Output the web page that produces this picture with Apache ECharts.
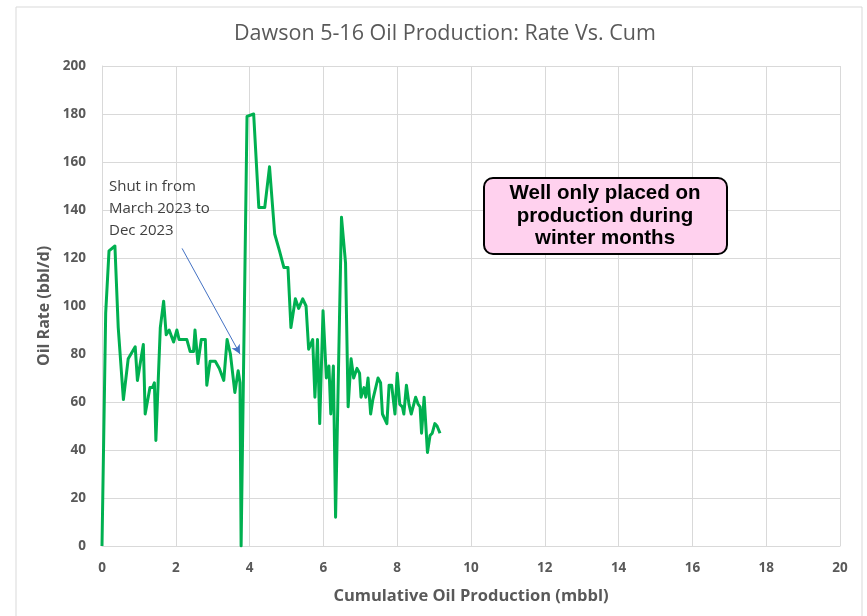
<!DOCTYPE html>
<html>
<head>
<meta charset="utf-8">
<script src="https://cdn.jsdelivr.net/npm/echarts@6/dist/echarts.min.js"></script>
<style>
  html, body { margin: 0; padding: 0; background: #fff; }
  #chart { width: 867px; height: 616px; }
</style>
</head>
<body>
<div id="chart"></div>
<script>
// cumulative oil (mbbl) and oil rate (bbl/d)
var cumOil = [0, 0.10, 0.19, 0.35, 0.44, 0.58, 0.71, 0.90, 0.96, 1.12, 1.17, 1.30, 1.37, 1.42, 1.46,
    1.58, 1.67, 1.74, 1.82, 1.94, 2.03, 2.09, 2.30, 2.39, 2.48, 2.52, 2.60, 2.69, 2.80, 2.84, 2.93,
    3.07, 3.18, 3.30, 3.39, 3.48, 3.60, 3.69, 3.74, 3.77, 3.93, 4.11, 4.25, 4.41, 4.54, 4.68, 4.81,
    4.93, 5.04, 5.12, 5.24, 5.33, 5.44, 5.53, 5.60, 5.71, 5.77, 5.84, 5.90, 5.99, 6.08, 6.15, 6.20,
    6.27, 6.33, 6.49, 6.60, 6.67, 6.75, 6.82, 6.91, 6.98, 7.02, 7.10, 7.15, 7.21, 7.28, 7.34, 7.48,
    7.55, 7.60, 7.72, 7.78, 7.85, 7.94, 8.00, 8.07, 8.14, 8.18, 8.25, 8.32, 8.38, 8.50, 8.57, 8.62,
    8.66, 8.73, 8.82, 8.89, 8.95, 9.02, 9.08, 9.16];
var oilRate = [0, 97, 123, 125, 91, 61, 78, 83, 69, 84, 55, 66, 66, 68, 44,
    91, 102, 88, 90, 85, 90, 86, 86, 81, 81, 90, 76, 86, 86, 67, 77,
    77, 74, 69, 86, 80, 64, 73, 68, 0, 179, 180, 141, 141, 158, 130, 123,
    116, 116, 91, 103, 99, 103, 100, 82, 86, 62, 86, 51, 98, 70, 75, 55,
    75, 12, 137, 118, 58, 78, 70, 74, 72, 62, 66, 62, 70, 55, 61, 70,
    68, 55, 51, 67, 67, 55, 72, 59, 58, 55, 67, 59, 55, 62, 59, 58,
    47, 62, 39, 46, 47, 51, 50, 47];

// arrow for the shut-in note, in data units
var arrowFrom = [2.17, 124];
var arrowTo = [3.74, 80];

var noteLines = ['Shut in from', 'March 2023 to', 'Dec 2023'];
var boxLines = ['Well only placed on', 'production during', 'winter months'];

var points = [];
for (var i = 0; i < cumOil.length; i++) {
    points.push([cumOil[i], oilRate[i]]);
}

var myChart = echarts.init(document.getElementById('chart'));

var gray = '#595959';
var gridColor = '#d9d9d9';

var option = {
    animation: false,
    backgroundColor: '#fff',
    title: {
        text: 'Dawson 5-16 Oil Production: Rate Vs. Cum',
        left: 229,
        top: 18,
        textStyle: { color: gray, fontFamily: 'Open Sans', fontWeight: 'normal', fontSize: 21.5 }
    },
    grid: { left: 102, right: 27, top: 66, bottom: 70 },
    xAxis: {
        type: 'value',
        min: 0, max: 20, interval: 2,
        name: 'Cumulative Oil Production (mbbl)',
        nameLocation: 'middle',
        nameGap: 42,
        nameTextStyle: { color: gray, fontFamily: 'Open Sans', fontWeight: 'bold', fontSize: 16.5 },
        axisLine: { show: true, lineStyle: { color: gridColor, width: 1 } },
        axisTick: { show: false },
        axisLabel: { color: gray, fontFamily: 'Open Sans', fontWeight: 'bold', fontSize: 13.5, margin: 15 },
        splitLine: { show: true, lineStyle: { color: gridColor, width: 1 } }
    },
    yAxis: {
        type: 'value',
        min: 0, max: 200, interval: 20,
        name: 'Oil Rate (bbl/d)',
        nameLocation: 'middle',
        nameGap: 50,
        nameTextStyle: { color: gray, fontFamily: 'Open Sans', fontWeight: 'bold', fontSize: 16 },
        axisLine: { show: true, lineStyle: { color: gridColor, width: 1 } },
        axisTick: { show: false },
        axisLabel: { color: gray, fontFamily: 'Open Sans', fontWeight: 'bold', fontSize: 13.5, margin: 16 },
        splitLine: { show: true, lineStyle: { color: gridColor, width: 1 } }
    },
    series: [{
        name: 'Oil Rate',
        type: 'line',
        data: points,
        showSymbol: false,
        symbol: 'none',
        lineStyle: { color: '#00b050', width: 3, join: 'round' },
        markLine: {
            silent: true,
            symbol: ['none', 'arrow'],
            symbolSize: [7, 9],
            label: { show: false },
            lineStyle: { color: '#4472c4', width: 1, type: 'solid' },
            data: [[{ coord: arrowFrom }, { coord: arrowTo }]]
        }
    }],
    graphic: [
        {
            type: 'rect',
            shape: { x: 16, y: 7, width: 846, height: 640 },
            style: { fill: 'none', stroke: gridColor, lineWidth: 1 },
            silent: true, z: -1
        },
        {
            type: 'text',
            left: 109, top: 176,
            z: 100,
            style: {
                text: noteLines.join('\n'),
                fill: '#404040',
                font: '15px "Open Sans"',
                lineHeight: 22
            }
        },
        {
            type: 'rect',
            z: 100,
            shape: { x: 484, y: 178, width: 243, height: 76, r: 9 },
            style: { fill: '#ffd1ee', stroke: '#000', lineWidth: 2 }
        },
        {
            type: 'text',
            z: 101,
            x: 605, y: 216,
            style: {
                text: boxLines.join('\n'),
                fill: '#000',
                font: 'bold 20.5px "Liberation Sans"',
                align: 'center',
                verticalAlign: 'middle',
                lineHeight: 22.5
            }
        }
    ]
};

myChart.setOption(option);
</script>
</body>
</html>
